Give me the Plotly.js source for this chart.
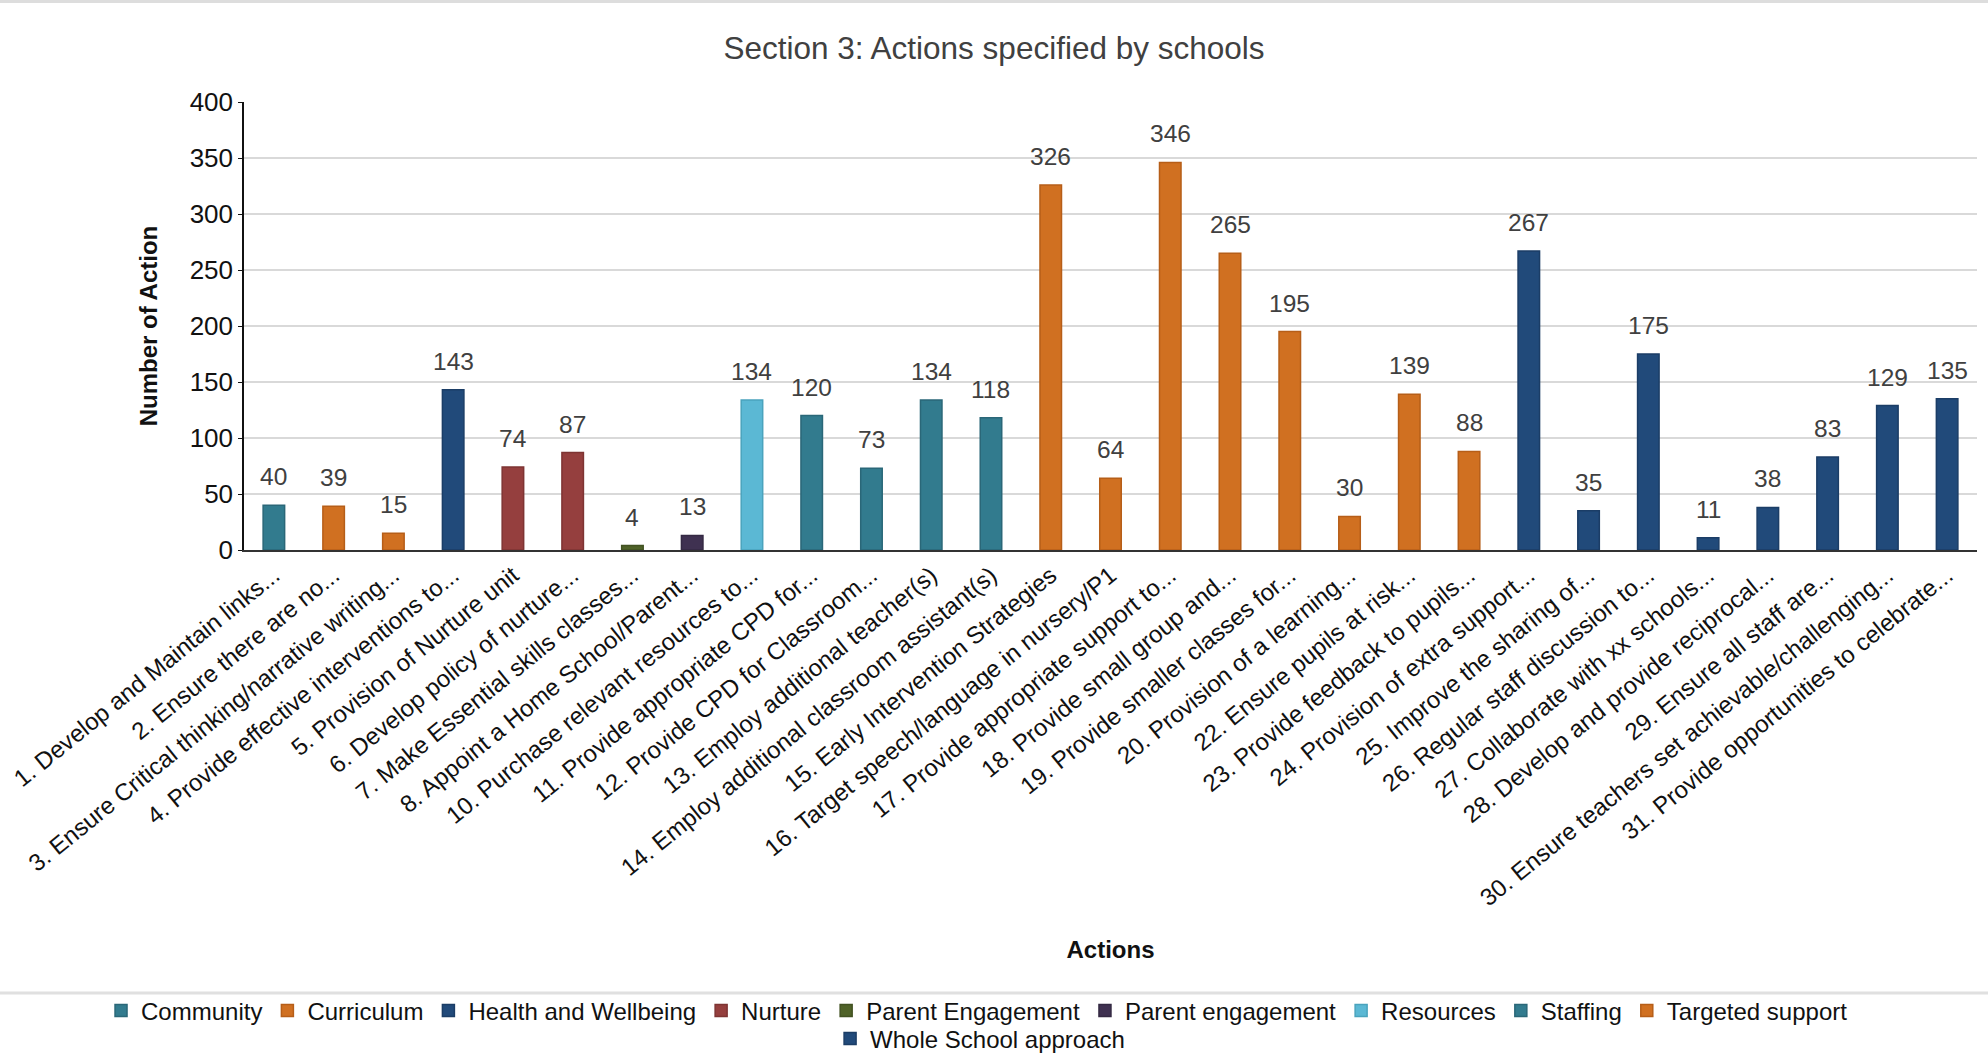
<!DOCTYPE html>
<html>
<head>
<meta charset="utf-8">
<script src="https://cdn.plot.ly/plotly-3.0.1.min.js"></script>
<style>
  html, body { margin: 0; padding: 0; background: #ffffff; }
  #chart { width: 1988px; height: 1056px; }
</style>
</head>
<body>
<div id="chart"></div>
<script>
// ---- Data ----
const labels = [
  "1. Develop and Maintain links...",
  "2. Ensure there are no...",
  "3. Ensure Critical thinking/narrative writing...",
  "4. Provide effective interventions to...",
  "5. Provision of Nurture unit",
  "6. Develop policy of nurture...",
  "7. Make Essential skills classes...",
  "8. Appoint a Home School/Parent...",
  "10. Purchase relevant resources to...",
  "11. Provide appropriate CPD for...",
  "12. Provide CPD for Classroom...",
  "13. Employ additional teacher(s)",
  "14. Employ additional classroom assistant(s)",
  "15. Early Intervention Strategies",
  "16. Target speech/language in nursery/P1",
  "17. Provide appropriate support to...",
  "18. Provide small group and...",
  "19. Provide smaller classes for...",
  "20. Provision of a learning...",
  "22. Ensure pupils at risk...",
  "23. Provide feedback to pupils...",
  "24. Provision of extra support...",
  "25. Improve the sharing of...",
  "26. Regular staff discussion to...",
  "27. Collaborate with xx schools...",
  "28. Develop and provide reciprocal...",
  "29. Ensure all staff are...",
  "30. Ensure teachers set achievable/challenging...",
  "31. Provide opportunities to celebrate..."
];

const values = [40, 39, 15, 143, 74, 87, 4, 13, 134, 120, 73, 134, 118,
                326, 64, 346, 265, 195, 30, 139, 88,
                267, 35, 175, 11, 38, 83, 129, 135];

const groups = [
  "Community", "Curriculum", "Curriculum", "Health and Wellbeing",
  "Nurture", "Nurture", "Parent Engagement", "Parent engagement",
  "Resources", "Staffing", "Staffing", "Staffing", "Staffing",
  "Targeted support", "Targeted support", "Targeted support", "Targeted support",
  "Targeted support", "Targeted support", "Targeted support", "Targeted support",
  "Whole School approach", "Whole School approach", "Whole School approach",
  "Whole School approach", "Whole School approach", "Whole School approach",
  "Whole School approach", "Whole School approach"
];

const groupNames = ["Community", "Curriculum", "Health and Wellbeing", "Nurture",
  "Parent Engagement", "Parent engagement", "Resources", "Staffing",
  "Targeted support", "Whole School approach"];

const groupColors = ["#327b8e", "#d07021", "#214a7a", "#953f3e",
  "#4f6228", "#3f3151", "#5bb8d4", "#327b8e", "#d07021", "#214a7a"];

const groupEdges = ["#2a6778", "#b65e18", "#1b3d66", "#7e3433",
  "#425222", "#342943", "#4aa3bd", "#2a6778", "#b65e18", "#1b3d66"];

// legend row for each group (second row holds the last entry)
const groupLegendRow = ["legend", "legend", "legend", "legend", "legend",
  "legend", "legend", "legend", "legend", "legend2"];

// ---- Traces ----
const traces = groupNames.map((g, gi) => {
  const xs = [], ys = [];
  labels.forEach((l, i) => { if (groups[i] === g) { xs.push(l); ys.push(values[i]); } });
  return {
    type: "bar",
    name: g,
    x: xs,
    y: ys,
    width: 0.36,
    legend: groupLegendRow[gi],
    marker: { color: groupColors[gi], line: { color: groupEdges[gi], width: 1.5 } },
    hoverinfo: "x+y+name"
  };
});

const annotations = labels.map((l, i) => ({
  x: l, y: values[i], xref: "x", yref: "y",
  text: String(values[i]),
  showarrow: false, yanchor: "bottom", yshift: 13,
  font: { family: "Liberation Sans, Arial, sans-serif", size: 24.5, color: "#404040" }
}));

const legendFont = { family: "Liberation Sans, Arial, sans-serif", size: 24, color: "#111111" };

const layout = {
  width: 1988,
  height: 1056,
  paper_bgcolor: "#ffffff",
  plot_bgcolor: "#ffffff",
  font: { family: "Liberation Sans, Arial, sans-serif", color: "#111111" },
  margin: { l: 244, r: 11, t: 102, b: 506, autoexpand: false },
  title: {
    text: "Section 3: Actions specified by schools",
    x: 0.5, xanchor: "center", xref: "container",
    y: 1 - 48 / 1056, yanchor: "middle", yref: "container",
    font: { size: 31.5, color: "#404040" }
  },
  barmode: "overlay",
  showlegend: true,
  legend: {
    orientation: "h",
    xref: "paper", yref: "paper",
    x: -0.0825, xanchor: "left",
    y: -1.029, yanchor: "middle",
    bgcolor: "rgba(0,0,0,0)",
    font: legendFont,
    traceorder: "normal"
  },
  legend2: {
    orientation: "h",
    xref: "container", yref: "container",
    x: 0.493, xanchor: "center",
    y: 1 - 1039 / 1056, yanchor: "middle",
    bgcolor: "rgba(0,0,0,0)",
    font: legendFont,
    traceorder: "normal"
  },
  xaxis: {
    type: "category",
    categoryorder: "array",
    categoryarray: labels,
    tickangle: -39,
    tickfont: { size: 24, color: "#111111" },
    showline: true, linecolor: "#333333", linewidth: 2,
    showgrid: false,
    ticks: "",
    title: { text: "Actions", font: { size: 24, color: "#111111", weight: "bold" }, standoff: 31 }
  },
  yaxis: {
    range: [0, 400],
    dtick: 50,
    tickfont: { size: 26, color: "#111111" },
    showgrid: true, gridcolor: "#d9d9d9", gridwidth: 2,
    zeroline: false,
    showline: true, linecolor: "#111111", linewidth: 1.5,
    ticks: "outside", ticklen: 4, tickcolor: "#111111",
    title: { text: "Number of Action", font: { size: 24, color: "#111111", weight: "bold" }, standoff: 25 }
  },
  annotations: annotations,
  shapes: [
    { type: "line", xref: "paper", yref: "paper", x0: -0.141, x1: 1.007,
      y0: 1.2245, y1: 1.2245, line: { color: "#dddddd", width: 3 } },
    { type: "line", xref: "paper", yref: "paper", x0: -0.141, x1: 1.007,
      y0: -0.9888, y1: -0.9888, line: { color: "#e0e0e0", width: 3 } }
  ]
};

Plotly.newPlot("chart", traces, layout, { displayModeBar: false, responsive: false });
</script>
</body>
</html>
